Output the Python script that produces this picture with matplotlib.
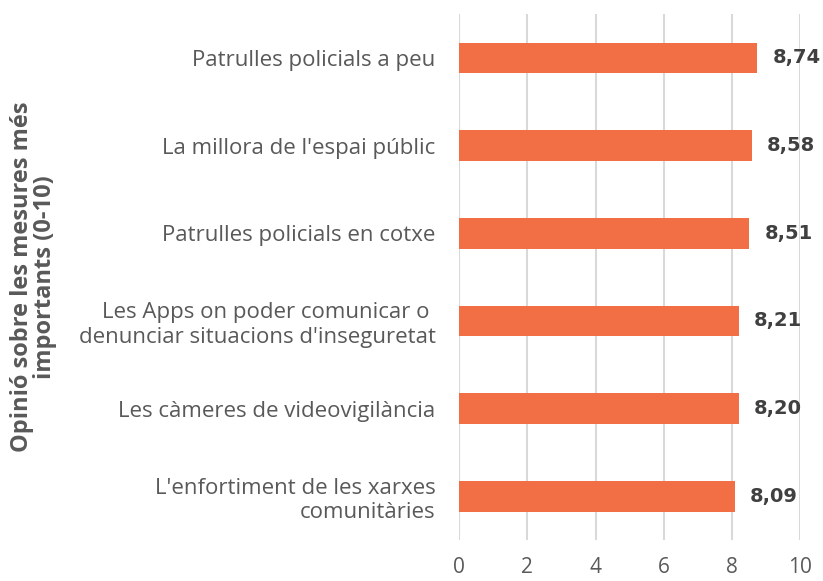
import matplotlib.pyplot as plt

# Data (top to bottom as shown)
categories = [
    "Patrulles policials a peu",
    "La millora de l'espai públic",
    "Patrulles policials en cotxe",
    "Les Apps on poder comunicar o \ndenunciar situacions d'inseguretat",
    "Les càmeres de videovigilància",
    "L'enfortiment de les xarxes\ncomunitàries",
]
values = [8.74, 8.58, 8.51, 8.21, 8.20, 8.09]
xticks = [0, 2, 4, 6, 8, 10]

plt.rcParams["font.family"] = ["Open Sans", "DejaVu Sans"]

fig = plt.figure(figsize=(8.23, 5.81), dpi=100)
ax = fig.add_axes([0.558, 0.0706, 0.414, 0.905])

pos = list(range(len(categories)))[::-1]
ax.barh(pos, values, height=0.35, color="#F26E45", zorder=3)

for p, v in zip(pos, values):
    ax.annotate(f"{v:.2f}".replace(".", ","), xy=(v, p), xytext=(11, 0),
                textcoords="offset points", va="center", ha="left",
                fontsize=14, fontweight="bold", color="#404040",
                family="DejaVu Sans")

ax.set_xlim(0, 10)
ax.set_ylim(-0.5, 5.5)
ax.set_xticks(xticks)
ax.set_xticklabels([str(t) for t in xticks], fontsize=15, color="#595959")
ax.set_yticks(pos)
ax.set_yticklabels(categories, fontsize=16, color="#595959", linespacing=1.2)
ax.tick_params(axis="x", length=0, pad=12)
ax.tick_params(axis="y", length=0, pad=17)
ax.xaxis.grid(True, color="#d9d9d9", linewidth=1.5, zorder=0)
for s in ax.spines.values():
    s.set_visible(False)

ax.set_ylabel("Opinió sobre les mesures més\nimportants (0-10)", fontsize=17,
              fontweight="bold", color="#595959", linespacing=0.95)
ax.yaxis.set_label_coords(-1.18, 0.5)

fig.savefig("out.png", dpi=100)
